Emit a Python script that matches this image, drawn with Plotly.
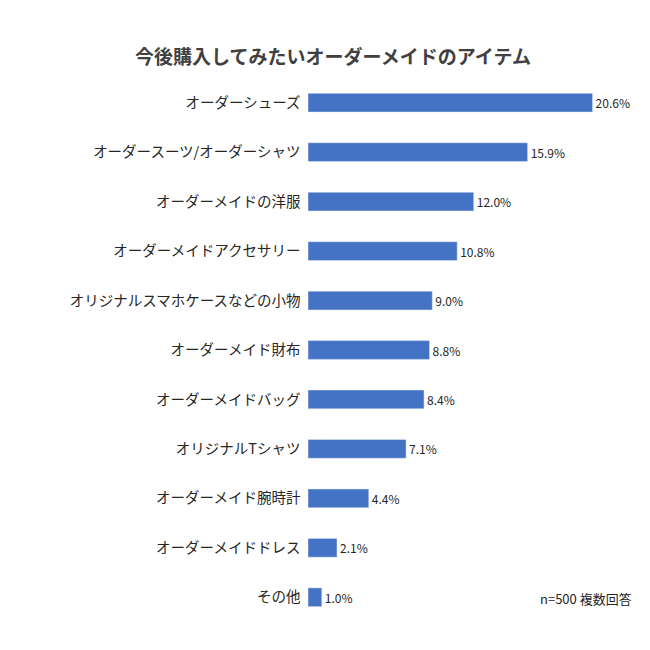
import plotly.graph_objects as go

categories = ["オーダーシューズ","オーダースーツ/オーダーシャツ","オーダーメイドの洋服","オーダーメイドアクセサリー",
              "オリジナルスマホケースなどの小物","オーダーメイド財布","オーダーメイドバッグ","オリジナルTシャツ",
              "オーダーメイド腕時計","オーダーメイドドレス","その他"]
values = [20.6,15.9,12.0,10.8,9.0,8.8,8.4,7.1,4.4,2.1,1.0]
labels = [f"{v:.1f}%" for v in values]

font = "Noto Sans CJK JP"
fig = go.Figure(go.Bar(
    y=categories, x=values, orientation="h", marker_color="#4472C4", width=0.38,
    text=labels, textposition="outside", cliponaxis=False,
    textfont=dict(size=12, color="#262626", family=font)))
fig.update_layout(
    width=650, height=650, plot_bgcolor="white", paper_bgcolor="white",
    margin=dict(l=300, r=24, t=70, b=36),
    title=dict(text="<b>今後購入してみたいオーダーメイドのアイテム</b>", x=0.5, xanchor="center", y=0.935,
               font=dict(size=19, color="#404040", family=font)),
    xaxis=dict(range=[0,23.6], visible=False),
    yaxis=dict(autorange="reversed", tickfont=dict(size=14.5, color="#262626", family=font),
               ticks="", showline=False, ticksuffix="  "),
    showlegend=False,
    annotations=[dict(text="n=500 複数回答", x=1, y=0, xref="paper", yref="paper",
                      xanchor="right", yanchor="bottom", showarrow=False, yshift=12,
                      font=dict(size=13, color="#262626", family=font))])
fig.write_html("out.html")
